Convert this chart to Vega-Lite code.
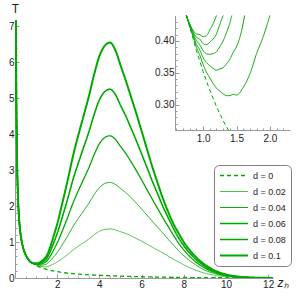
{
 "$schema": "https://vega.github.io/schema/vega-lite/v6.json",
 "width": 258, "height": 258,
 "autosize": {"type": "none"},
 "padding": {"left": 15, "top": 20, "right": 27, "bottom": 20},
 "config": {
  "view": {"stroke": null},
  "font": "Liberation Sans",
  "axis": {"grid": false, "domainColor": "#9a9a9a", "tickColor": "#9a9a9a", "labelColor": "#222222", "labelFontSize": 10, "labelFont": "Liberation Sans", "titleFont": "Liberation Sans", "titleFontWeight": "normal", "titleColor": "#222222", "labelOverlap": false, "labelFlush": false}
 },
 "datasets": {
  "main": [
   {"z":0.0444,"k0":7.17,"k1":7.17,"k2":7.17,"k3":7.17,"k4":7.17,"k5":7.17},
   {"z":0.05,"k0":6.37,"k1":6.37,"k2":6.37,"k3":6.37,"k4":6.37,"k5":6.37},
   {"z":0.06,"k0":5.31,"k1":5.31,"k2":5.31,"k3":5.31,"k4":5.31,"k5":5.31},
   {"z":0.07,"k0":4.55,"k1":4.55,"k2":4.55,"k3":4.55,"k4":4.55,"k5":4.55},
   {"z":0.08,"k0":3.98,"k1":3.98,"k2":3.98,"k3":3.98,"k4":3.98,"k5":3.98},
   {"z":0.1,"k0":3.18,"k1":3.18,"k2":3.18,"k3":3.18,"k4":3.18,"k5":3.18},
   {"z":0.12,"k0":2.65,"k1":2.65,"k2":2.65,"k3":2.65,"k4":2.65,"k5":2.65},
   {"z":0.15,"k0":2.12,"k1":2.12,"k2":2.12,"k3":2.12,"k4":2.12,"k5":2.12},
   {"z":0.2,"k0":1.6,"k1":1.6,"k2":1.6,"k3":1.6,"k4":1.6,"k5":1.6},
   {"z":0.25,"k0":1.285,"k1":1.285,"k2":1.285,"k3":1.285,"k4":1.285,"k5":1.285},
   {"z":0.3,"k0":1.075,"k1":1.075,"k2":1.075,"k3":1.075,"k4":1.075,"k5":1.075},
   {"z":0.4,"k0":0.81,"k1":0.81,"k2":0.81,"k3":0.81,"k4":0.81,"k5":0.81},
   {"z":0.5,"k0":0.65,"k1":0.65,"k2":0.65,"k3":0.65,"k4":0.65,"k5":0.65},
   {"z":0.6,"k0":0.545,"k1":0.545,"k2":0.545,"k3":0.545,"k4":0.545,"k5":0.545},
   {"z":0.75,"k0":0.44,"k1":0.44,"k2":0.44,"k3":0.44,"k4":0.44,"k5":0.44},
   {"z":0.9,"k0":0.385,"k1":0.39,"k2":0.395,"k3":0.401,"k4":0.406,"k5":0.411},
   {"z":1.05,"k0":0.337,"k1":0.351,"k2":0.366,"k3":0.38,"k4":0.394,"k5":0.408},
   {"z":1.2,"k0":0.297,"k1":0.326,"k2":0.354,"k3":0.383,"k4":0.411,"k5":0.44},
   {"z":1.37,"k0":0.262,"k1":0.314,"k2":0.366,"k3":0.418,"k4":0.469,"k5":0.521},
   {"z":1.5,"k0":0.24,"k1":0.315,"k2":0.391,"k3":0.466,"k4":0.541,"k5":0.616},
   {"z":1.65,"k0":0.218,"k1":0.342,"k2":0.465,"k3":0.588,"k4":0.711,"k5":0.834},
   {"z":1.8,"k0":0.198,"k1":0.38,"k2":0.561,"k3":0.743,"k4":0.924,"k5":1.105},
   {"z":2.0,"k0":0.175,"k1":0.442,"k2":0.707,"k3":0.972,"k4":1.238,"k5":1.503},
   {"z":2.25,"k0":0.152,"k1":0.542,"k2":0.931,"k3":1.319,"k4":1.708,"k5":2.096},
   {"z":2.5,"k0":0.134,"k1":0.654,"k2":1.172,"k3":1.69,"k4":2.208,"k5":2.726},
   {"z":2.75,"k0":0.12,"k1":0.777,"k2":1.431,"k3":2.085,"k4":2.738,"k5":3.392},
   {"z":3.0,"k0":0.108,"k1":0.882,"k2":1.652,"k3":2.423,"k4":3.193,"k5":3.964},
   {"z":3.25,"k0":0.098,"k1":0.982,"k2":1.863,"k3":2.743,"k4":3.624,"k5":4.504},
   {"z":3.5,"k0":0.089,"k1":1.084,"k2":2.074,"k3":3.065,"k4":4.056,"k5":5.046},
   {"z":3.75,"k0":0.081,"k1":1.199,"k2":2.313,"k3":3.426,"k4":4.54,"k5":5.654},
   {"z":4.0,"k0":0.074,"k1":1.296,"k2":2.513,"k3":3.731,"k4":4.948,"k5":6.165},
   {"z":4.25,"k0":0.068,"k1":1.349,"k2":2.624,"k3":3.9,"k4":5.175,"k5":6.451},
   {"z":4.5,"k0":0.062,"k1":1.362,"k2":2.657,"k3":3.952,"k4":5.247,"k5":6.542},
   {"z":4.75,"k0":0.057,"k1":1.338,"k2":2.603,"k3":3.859,"k4":5.107,"k5":6.343},
   {"z":5.0,"k0":0.052,"k1":1.287,"k2":2.489,"k3":3.66,"k4":4.801,"k5":5.916},
   {"z":5.25,"k0":0.047,"k1":1.237,"k2":2.372,"k3":3.461,"k4":4.501,"k5":5.49},
   {"z":5.5,"k0":0.043,"k1":1.174,"k2":2.236,"k3":3.233,"k4":4.165,"k5":5.033},
   {"z":5.75,"k0":0.039,"k1":1.099,"k2":2.079,"k3":2.986,"k4":3.819,"k5":4.575},
   {"z":6.0,"k0":0.035,"k1":1.023,"k2":1.919,"k3":2.729,"k4":3.452,"k5":4.085},
   {"z":6.25,"k0":0.032,"k1":0.942,"k2":1.751,"k3":2.463,"k4":3.078,"k5":3.596},
   {"z":6.5,"k0":0.029,"k1":0.861,"k2":1.583,"k3":2.198,"k4":2.704,"k5":3.107},
   {"z":6.75,"k0":0.026,"k1":0.78,"k2":1.417,"k3":1.942,"k4":2.354,"k5":2.66},
   {"z":7.0,"k0":0.023,"k1":0.699,"k2":1.253,"k3":1.686,"k4":2.0,"k5":2.23},
   {"z":7.25,"k0":0.021,"k1":0.613,"k2":1.085,"k3":1.441,"k4":1.69,"k5":1.85},
   {"z":7.5,"k0":0.019,"k1":0.526,"k2":0.921,"k3":1.2,"k4":1.39,"k5":1.52},
   {"z":7.75,"k0":0.017,"k1":0.446,"k2":0.765,"k3":0.97,"k4":1.12,"k5":1.25},
   {"z":8.0,"k0":0.015,"k1":0.366,"k2":0.62,"k3":0.78,"k4":0.9,"k5":1.0},
   {"z":8.5,"k0":0.012,"k1":0.233,"k2":0.39,"k3":0.48,"k4":0.56,"k5":0.63},
   {"z":9.0,"k0":0.01,"k1":0.134,"k2":0.22,"k3":0.275,"k4":0.32,"k5":0.37},
   {"z":9.5,"k0":0.008,"k1":0.07,"k2":0.115,"k3":0.145,"k4":0.17,"k5":0.2},
   {"z":10.0,"k0":0.006,"k1":0.035,"k2":0.056,"k3":0.07,"k4":0.085,"k5":0.1},
   {"z":10.5,"k0":0.005,"k1":0.017,"k2":0.026,"k3":0.032,"k4":0.038,"k5":0.045},
   {"z":11.0,"k0":0.004,"k1":0.009,"k2":0.012,"k3":0.015,"k4":0.017,"k5":0.02},
   {"z":11.5,"k0":0.003,"k1":0.004,"k2":0.005,"k3":0.006,"k4":0.007,"k5":0.008},
   {"z":12.0,"k0":0.0025,"k1":0.003,"k2":0.003,"k3":0.003,"k4":0.003,"k5":0.003},
   {"z":12.23,"k0":0.002,"k1":0.002,"k2":0.002,"k3":0.002,"k4":0.002,"k5":0.002}
  ],
  "inset": [
   {"z":0.75,"k0":0.44,"k1":0.44,"k2":0.44,"k3":0.44,"k4":0.44,"k5":0.44},
   {"z":0.8,"k0":0.422,"k1":0.423,"k2":0.424,"k3":0.425,"k4":0.426,"k5":0.427},
   {"z":0.85,"k0":0.404,"k1":0.407,"k2":0.409,"k3":0.412,"k4":0.414,"k5":0.417},
   {"z":0.9,"k0":0.385,"k1":0.39,"k2":0.395,"k3":0.401,"k4":0.406,"k5":0.411},
   {"z":0.95,"k0":0.369,"k1":0.378,"k2":0.386,"k3":0.394,"k4":0.403,"k5":0.41},
   {"z":1.0,"k0":0.352,"k1":0.363,"k2":0.374,"k3":0.385,"k4":0.396,"k5":0.407},
   {"z":1.05,"k0":0.337,"k1":0.351,"k2":0.366,"k3":0.38,"k4":0.394,"k5":0.408},
   {"z":1.1,"k0":0.323,"k1":0.342,"k2":0.361,"k3":0.379,"k4":0.398,"k5":0.417},
   {"z":1.15,"k0":0.31,"k1":0.333,"k2":0.357,"k3":0.38,"k4":0.403,"k5":0.427},
   {"z":1.2,"k0":0.297,"k1":0.326,"k2":0.354,"k3":0.383,"k4":0.411,"k5":0.44},
   {"z":1.25,"k0":0.286,"k1":0.321,"k2":0.356,"k3":0.391,"k4":0.426,"k5":null},
   {"z":1.3,"k0":0.275,"k1":0.317,"k2":0.358,"k3":0.4,"k4":0.44,"k5":null},
   {"z":1.35,"k0":0.265,"k1":0.314,"k2":0.364,"k3":0.413,"k4":null,"k5":null},
   {"z":1.38,"k0":0.26,"k1":null,"k2":null,"k3":null,"k4":null,"k5":null},
   {"z":1.4,"k0":null,"k1":0.314,"k2":0.371,"k3":0.428,"k4":null,"k5":null},
   {"z":1.43,"k0":null,"k1":null,"k2":null,"k3":0.44,"k4":null,"k5":null},
   {"z":1.45,"k0":null,"k1":0.316,"k2":0.382,"k3":null,"k4":null,"k5":null},
   {"z":1.5,"k0":null,"k1":0.315,"k2":0.391,"k3":null,"k4":null,"k5":null},
   {"z":1.6,"k0":null,"k1":0.327,"k2":0.428,"k3":null,"k4":null,"k5":null},
   {"z":1.62,"k0":null,"k1":null,"k2":0.44,"k3":null,"k4":null,"k5":null},
   {"z":1.7,"k0":null,"k1":0.348,"k2":null,"k3":null,"k4":null,"k5":null},
   {"z":1.8,"k0":null,"k1":0.38,"k2":null,"k3":null,"k4":null,"k5":null},
   {"z":1.9,"k0":null,"k1":0.407,"k2":null,"k3":null,"k4":null,"k5":null},
   {"z":2.0,"k0":null,"k1":0.44,"k2":null,"k3":null,"k4":null,"k5":null}
  ]
 },
 "layer": [
  {
   "data": {"name": "main"},
   "transform": [{"fold": ["k0","k1","k2","k3","k4","k5"], "as": ["d","T"]}],
   "mark": {"type": "line", "clip": true, "interpolate": "monotone"},
   "encoding": {
    "x": {"field": "z", "type": "quantitative",
      "scale": {"domain": [0, 12.23], "nice": false, "zero": false},
      "axis": {"values": [0.5,1,1.5,2,2.5,3,3.5,4,4.5,5,5.5,6,6.5,7,7.5,8,8.5,9,9.5,10,10.5,11,11.5,12],
        "labelExpr": "datum.value % 2 === 0 ? format(datum.value, 'd') : ''",
        "tickSize": {"condition": {"test": "datum.value % 2 === 0", "value": -4}, "value": -2},
        "labelPadding": 5,
        "title": "zₕ", "titleX": 262, "titleY": 4, "titleAlign": "left", "titleBaseline": "middle", "titleFontSize": 12, "titleFontStyle": "italic"}},
    "y": {"field": "T", "type": "quantitative",
      "scale": {"domain": [0, 7.17], "nice": false},
      "axis": {"values": [0,0.2,0.4,0.6,0.8,1,1.2,1.4,1.6,1.8,2,2.2,2.4,2.6,2.8,3,3.2,3.4,3.6,3.8,4,4.2,4.4,4.6,4.8,5,5.2,5.4,5.6,5.8,6,6.2,6.4,6.6,6.8,7],
        "labelExpr": "abs(datum.value - round(datum.value)) < 0.001 ? format(datum.value, 'd') : ''",
        "tickSize": {"condition": {"test": "abs(datum.value - round(datum.value)) < 0.001", "value": -4}, "value": -2},
        "labelPadding": 5,
        "title": "T", "titleAngle": 0, "titleX": 0, "titleY": -12, "titleAlign": "center", "titleBaseline": "middle", "titleFontSize": 12}},
    "color": {"field": "d", "type": "nominal",
      "scale": {"type": "ordinal", "domain": ["k0","k1","k2","k3","k4","k5"], "range": ["#00a800","#00a800","#00a800","#00a800","#00a800","#00a800"]},
      "legend": {"title": null, "orient": "none", "legendX": 199, "legendY": 145,
        "symbolType": "stroke", "symbolSize": 784, "clipHeight": 11, "symbolStrokeColor": "#00a800", "labelFontSize": 9, "labelColor": "#222222", "labelFont": "Liberation Sans",
        "strokeColor": "#808080", "cornerRadius": 5, "fillColor": "white", "padding": 5, "rowPadding": 5, "labelOffset": 4,
        "labelExpr": "datum.label == 'k0' ? 'd = 0' : datum.label == 'k1' ? 'd = 0.02' : datum.label == 'k2' ? 'd = 0.04' : datum.label == 'k3' ? 'd = 0.06' : datum.label == 'k4' ? 'd = 0.08' : 'd = 0.1'"}},
    "strokeWidth": {"field": "d", "type": "nominal",
      "scale": {"type": "ordinal", "domain": ["k0","k1","k2","k3","k4","k5"], "range": [1.3,0.7,0.95,1.3,1.6,2.0]}},
    "strokeDash": {"field": "d", "type": "nominal",
      "scale": {"type": "ordinal", "domain": ["k0","k1","k2","k3","k4","k5"], "range": [[4,3],[1,0],[1,0],[1,0],[1,0],[1,0]]}}
   }
  },
  {
   "data": {"name": "inset"},
   "transform": [{"fold": ["k0","k1","k2","k3","k4","k5"], "as": ["d","T"]}, {"filter": "datum.T != null"}],
   "mark": {"type": "line", "clip": false, "strokeWidth": 1, "interpolate": "monotone"},
   "encoding": {
    "x": {"field": "z", "type": "quantitative",
      "scale": {"domain": [0.58, 2.3], "range": [160, 275], "nice": false, "zero": false},
      "axis": {"orient": "bottom", "offset": -148, "values": [0.6,0.7,0.8,0.9,1.0,1.1,1.2,1.3,1.4,1.5,1.6,1.7,1.8,1.9,2.0,2.1,2.2],
        "labelExpr": "abs(datum.value*2 - round(datum.value*2)) < 0.001 ? format(datum.value, '.1f') : ''",
        "tickSize": {"condition": {"test": "abs(datum.value*2 - round(datum.value*2)) < 0.001", "value": -4}, "value": -2},
        "labelPadding": 7, "title": null}},
    "y": {"field": "T", "type": "quantitative",
      "scale": {"domain": [0.26, 0.44], "range": [110, -4.5], "nice": false, "zero": false},
      "axis": {"orient": "left", "offset": -160, "values": [0.26,0.27,0.28,0.29,0.3,0.31,0.32,0.33,0.34,0.35,0.36,0.37,0.38,0.39,0.4,0.41,0.42,0.43],
        "labelExpr": "abs(datum.value*20 - round(datum.value*20)) < 0.001 ? format(datum.value, '.2f') : ''",
        "tickSize": {"condition": {"test": "abs(datum.value*20 - round(datum.value*20)) < 0.001", "value": -4}, "value": -2},
        "labelPadding": 5, "title": null}},
    "color": {"field": "d", "type": "nominal",
      "scale": {"type": "ordinal", "domain": ["k0","k1","k2","k3","k4","k5"], "range": ["#00a800","#00a800","#00a800","#00a800","#00a800","#00a800"]}},
    "strokeDash": {"field": "d", "type": "nominal",
      "scale": {"type": "ordinal", "domain": ["k0","k1","k2","k3","k4","k5"], "range": [[4,3],[1,0],[1,0],[1,0],[1,0],[1,0]]}}
   }
  }
 ],
 "resolve": {"scale": {"x": "independent", "y": "independent"}}
}
